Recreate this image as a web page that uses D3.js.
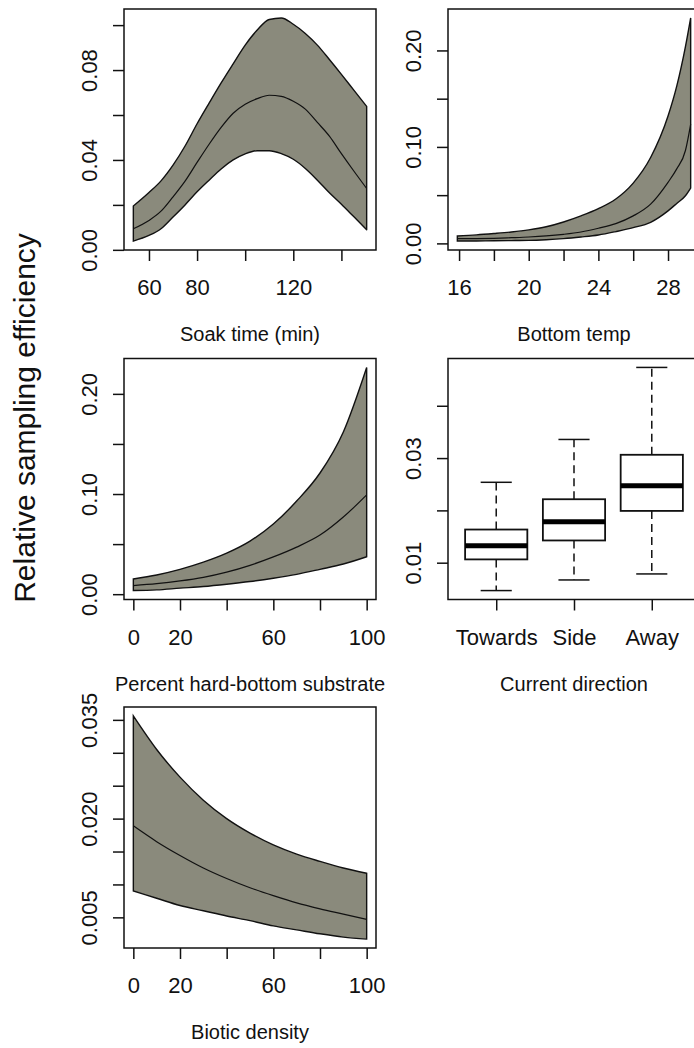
<!DOCTYPE html>
<html lang="en">

<head>
  <meta charset="UTF-8">
  <script src="https://cdnjs.cloudflare.com/ajax/libs/d3/7.8.5/d3.min.js"></script>
  <style>
    body { margin: 0; background: #fff; }
    text { font-family: "Liberation Sans", Arial, sans-serif; fill: #111; }
  </style>
  <title></title>
</head>

<body>
  <script>
    // soak time panel
    const soakTime = [53.5, 60, 65, 70, 75, 80, 85, 90, 95, 100, 105, 110, 115, 120, 125, 130, 135, 140, 145, 150.5];
    const soakUpper = [0.0195, 0.0255, 0.0307, 0.0377, 0.0462, 0.0561, 0.0653, 0.0743, 0.0828, 0.0911, 0.0978, 0.1025, 0.1032, 0.1004, 0.0963, 0.0911, 0.0847, 0.0781, 0.0713, 0.0638];
    const soakMid = [0.0094, 0.0131, 0.0172, 0.0236, 0.0306, 0.0389, 0.0470, 0.0545, 0.0608, 0.0648, 0.0673, 0.0688, 0.0683, 0.0661, 0.0626, 0.0567, 0.0506, 0.0428, 0.0353, 0.0273];
    const soakLower = [0.0039, 0.0064, 0.0094, 0.0146, 0.0200, 0.0258, 0.0310, 0.0360, 0.0400, 0.0427, 0.0441, 0.0441, 0.0428, 0.0403, 0.0362, 0.0310, 0.0254, 0.0203, 0.0149, 0.0089];

    // bottom temp panel
    const bottomTemp = [15.9, 17, 18, 19, 20, 21, 22, 23, 24, 25, 26, 27, 28, 28.5, 29, 29.3];
    const tempUpper = [0.0077, 0.0088, 0.0102, 0.0118, 0.0140, 0.0172, 0.0222, 0.0285, 0.0360, 0.0460, 0.0625, 0.0890, 0.1320, 0.1630, 0.2040, 0.2337];
    const tempMid = [0.0049, 0.0050, 0.0053, 0.0059, 0.0066, 0.0077, 0.0094, 0.0118, 0.0157, 0.0205, 0.0285, 0.0407, 0.0633, 0.0772, 0.0963, 0.1235];
    const tempLower = [0.0024, 0.0025, 0.0028, 0.0029, 0.0031, 0.0038, 0.0049, 0.0066, 0.0087, 0.0122, 0.0163, 0.0219, 0.0337, 0.0414, 0.0494, 0.0574];

    // percent hard-bottom panel
    const hardBottom = [0, 10, 20, 30, 40, 50, 60, 70, 80, 90, 100];
    const hardUpper = [0.0152, 0.0192, 0.0248, 0.0320, 0.0410, 0.0530, 0.0700, 0.0930, 0.1210, 0.1620, 0.2264];
    const hardMid = [0.0086, 0.0105, 0.0132, 0.0168, 0.0220, 0.0288, 0.0372, 0.0470, 0.0590, 0.0770, 0.0992];
    const hardLower = [0.0036, 0.0043, 0.0060, 0.0076, 0.0099, 0.0126, 0.0159, 0.0198, 0.0248, 0.0301, 0.0374];

    // biotic density panel
    const bioticDensity = [0, 10, 20, 30, 40, 50, 60, 70, 80, 90, 100];
    const bioticUpper = [0.0356, 0.0305, 0.0263, 0.0228, 0.0200, 0.0178, 0.0160, 0.0146, 0.0135, 0.0125, 0.0117];
    const bioticMid = [0.0189, 0.0165, 0.0144, 0.0125, 0.0109, 0.0095, 0.0083, 0.0072, 0.0063, 0.0055, 0.0047];
    const bioticLower = [0.0090, 0.0079, 0.0068, 0.0060, 0.0052, 0.0045, 0.0037, 0.0031, 0.0025, 0.0020, 0.0017];

    // current direction boxplot
    const directions = ["Towards", "Side", "Away"];
    const whiskerLow = [0.00467, 0.0067, 0.00785];
    const quart1 = [0.01063, 0.01425, 0.0199];
    const medians = [0.01324, 0.01781, 0.02473];
    const quart3 = [0.01634, 0.02213, 0.03063];
    const whiskerHigh = [0.02537, 0.03356, 0.04733];

    // ticks (all tick marks, and the ones R kept a label for)
    const soakXTicks = [60, 80, 100, 120, 140], soakXLabels = [60, 80, 120];
    const soakYTicks = [0, 0.02, 0.04, 0.06, 0.08, 0.10], soakYLabels = [0, 0.04, 0.08];
    const tempXTicks = [16, 18, 20, 22, 24, 26, 28], tempXLabels = [16, 20, 24, 28];
    const tempYTicks = [0, 0.05, 0.10, 0.15, 0.20], tempYLabels = [0, 0.10, 0.20];
    const pctXTicks = [0, 20, 40, 60, 80, 100], pctXLabels = [0, 20, 60, 100];
    const hardYTicks = [0, 0.05, 0.10, 0.15, 0.20], hardYLabels = [0, 0.10, 0.20];
    const dirYTicks = [0.01, 0.02, 0.03, 0.04], dirYLabels = [0.01, 0.03];
    const bioYTicks = [0.005, 0.010, 0.015, 0.020, 0.025, 0.030, 0.035], bioYLabels = [0.005, 0.020, 0.035];

    const w = 694;
    const h = 1048;
    const pw = 252;   // plot box width
    const ph = 241;   // plot box height
    const fill = "#8a8a7c";

    const svg = d3.select("body")
      .append("svg")
      .attr("width", w)
      .attr("height", h);

    // R style 4% padding
    function pad(ext) {
      const r = ext[1] - ext[0];
      return [ext[0] - 0.04 * r, ext[1] + 0.04 * r];
    }

    function near(list, v) {
      return list.some(l => Math.abs(l - v) < 1e-9);
    }

    function axes(g, xScale, yScale, xt, xl, yt, yl, xfmt, yfmt) {
      const xa = g.append("g")
        .attr("transform", "translate(0," + ph + ")")
        .call(d3.axisBottom(xScale).tickValues(xt).tickSize(11)
          .tickFormat(d => near(xl, d) ? xfmt(d) : ""));
      xa.select(".domain").remove();
      xa.selectAll("line").attr("stroke", "#111").attr("stroke-width", 1.5);
      xa.selectAll("text").attr("y", 45).attr("dy", null)
        .style("font-size", "22px").attr("fill", "#111");

      const ya = g.append("g")
        .call(d3.axisLeft(yScale).tickValues(yt).tickSize(11)
          .tickFormat(d => near(yl, d) ? yfmt(d) : ""));
      ya.select(".domain").remove();
      ya.selectAll("line").attr("stroke", "#111").attr("stroke-width", 1.5);
      ya.selectAll("text")
        .attr("x", 0).attr("y", 0).attr("dy", null)
        .attr("text-anchor", "middle")
        .attr("transform", "translate(-27,0) rotate(-90)")
        .style("font-size", "22px").attr("fill", "#111");
    }

    function frame(g, title) {
      g.append("rect")
        .attr("width", pw)
        .attr("height", ph)
        .attr("fill", "none")
        .attr("stroke", "#111")
        .attr("stroke-width", 1.5);
      g.append("text")
        .attr("x", pw / 2)
        .attr("y", ph + 91)
        .attr("text-anchor", "middle")
        .style("font-size", "20px")
        .text(title);
    }

    function band(left, top, xs, up, mid, lo, opt) {
      const g = svg.append("g").attr("transform", "translate(" + left + "," + top + ")");
      const rows = xs.map((x, i) => ({ x: x, up: up[i], mid: mid[i], lo: lo[i] }));

      const xScale = d3.scaleLinear().domain(pad(d3.extent(xs))).range([0, pw]);
      const yScale = d3.scaleLinear()
        .domain(pad([d3.min(lo), d3.max(up)]))
        .range([ph, 0]);

      const area = d3.area()
        .x(d => xScale(d.x))
        .y0(d => yScale(d.lo))
        .y1(d => yScale(d.up))
        .curve(d3.curveMonotoneX);

      g.append("path")
        .datum(rows)
        .attr("d", area)
        .attr("fill", fill)
        .attr("stroke", "#111")
        .attr("stroke-width", 1.4);

      g.append("path")
        .datum(rows)
        .attr("d", d3.line().x(d => xScale(d.x)).y(d => yScale(d.mid)).curve(d3.curveMonotoneX))
        .attr("fill", "none")
        .attr("stroke", "#111")
        .attr("stroke-width", 1.2);

      frame(g, opt.title);
      axes(g, xScale, yScale, opt.xt, opt.xl, opt.yt, opt.yl, d3.format("d"), d3.format(opt.yf));
    }

    band(124, 9, soakTime, soakUpper, soakMid, soakLower, {
      title: "Soak time (min)", xt: soakXTicks, xl: soakXLabels, yt: soakYTicks, yl: soakYLabels, yf: ".2f"
    });
    band(448, 9, bottomTemp, tempUpper, tempMid, tempLower, {
      title: "Bottom temp", xt: tempXTicks, xl: tempXLabels, yt: tempYTicks, yl: tempYLabels, yf: ".2f"
    });
    band(124, 358.5, hardBottom, hardUpper, hardMid, hardLower, {
      title: "Percent hard-bottom substrate", xt: pctXTicks, xl: pctXLabels, yt: hardYTicks, yl: hardYLabels, yf: ".2f"
    });
    band(124, 707, bioticDensity, bioticUpper, bioticMid, bioticLower, {
      title: "Biotic density", xt: pctXTicks, xl: pctXLabels, yt: bioYTicks, yl: bioYLabels, yf: ".3f"
    });

    // boxplot panel
    const bg = svg.append("g").attr("transform", "translate(448,358.5)");
    const bx = d3.scaleLinear().domain(pad([0.5, directions.length + 0.5])).range([0, pw]);
    const by = d3.scaleLinear()
      .domain(pad([d3.min(whiskerLow), d3.max(whiskerHigh)]))
      .range([ph, 0]);

    const stats = directions.map((d, i) => ({
      name: d, pos: i + 1, lo: whiskerLow[i], q1: quart1[i], med: medians[i], q3: quart3[i], hi: whiskerHigh[i]
    }));

    const bw = bx(1.4) - bx(1);   // half box width
    const cw = bx(1.2) - bx(1);   // half cap width

    const boxes = bg.selectAll("g.box")
      .data(stats)
      .enter()
      .append("g")
      .attr("class", "box");

    boxes.append("line")
      .attr("x1", d => bx(d.pos)).attr("x2", d => bx(d.pos))
      .attr("y1", d => by(d.q3)).attr("y2", d => by(d.hi))
      .attr("stroke", "#111").attr("stroke-width", 1.5).attr("stroke-dasharray", "8,5");
    boxes.append("line")
      .attr("x1", d => bx(d.pos)).attr("x2", d => bx(d.pos))
      .attr("y1", d => by(d.q1)).attr("y2", d => by(d.lo))
      .attr("stroke", "#111").attr("stroke-width", 1.5).attr("stroke-dasharray", "8,5");
    boxes.append("line")
      .attr("x1", d => bx(d.pos) - cw).attr("x2", d => bx(d.pos) + cw)
      .attr("y1", d => by(d.hi)).attr("y2", d => by(d.hi))
      .attr("stroke", "#111").attr("stroke-width", 1.5);
    boxes.append("line")
      .attr("x1", d => bx(d.pos) - cw).attr("x2", d => bx(d.pos) + cw)
      .attr("y1", d => by(d.lo)).attr("y2", d => by(d.lo))
      .attr("stroke", "#111").attr("stroke-width", 1.5);
    boxes.append("rect")
      .attr("x", d => bx(d.pos) - bw)
      .attr("width", 2 * bw)
      .attr("y", d => by(d.q3))
      .attr("height", d => by(d.q1) - by(d.q3))
      .attr("fill", "#fff")
      .attr("stroke", "#111")
      .attr("stroke-width", 1.8);
    boxes.append("line")
      .attr("x1", d => bx(d.pos) - bw).attr("x2", d => bx(d.pos) + bw)
      .attr("y1", d => by(d.med)).attr("y2", d => by(d.med))
      .attr("stroke", "#000").attr("stroke-width", 5);

    frame(bg, "Current direction");
    axes(bg, bx, by, [1, 2, 3], [1, 2, 3], dirYTicks, dirYLabels, d => directions[d - 1], d3.format(".2f"));

    // shared y title
    svg.append("text")
      .attr("transform", "translate(35,418) rotate(-90)")
      .attr("text-anchor", "middle")
      .style("font-size", "30px")
      .text("Relative sampling efficiency");
  </script>
</body>

</html>
